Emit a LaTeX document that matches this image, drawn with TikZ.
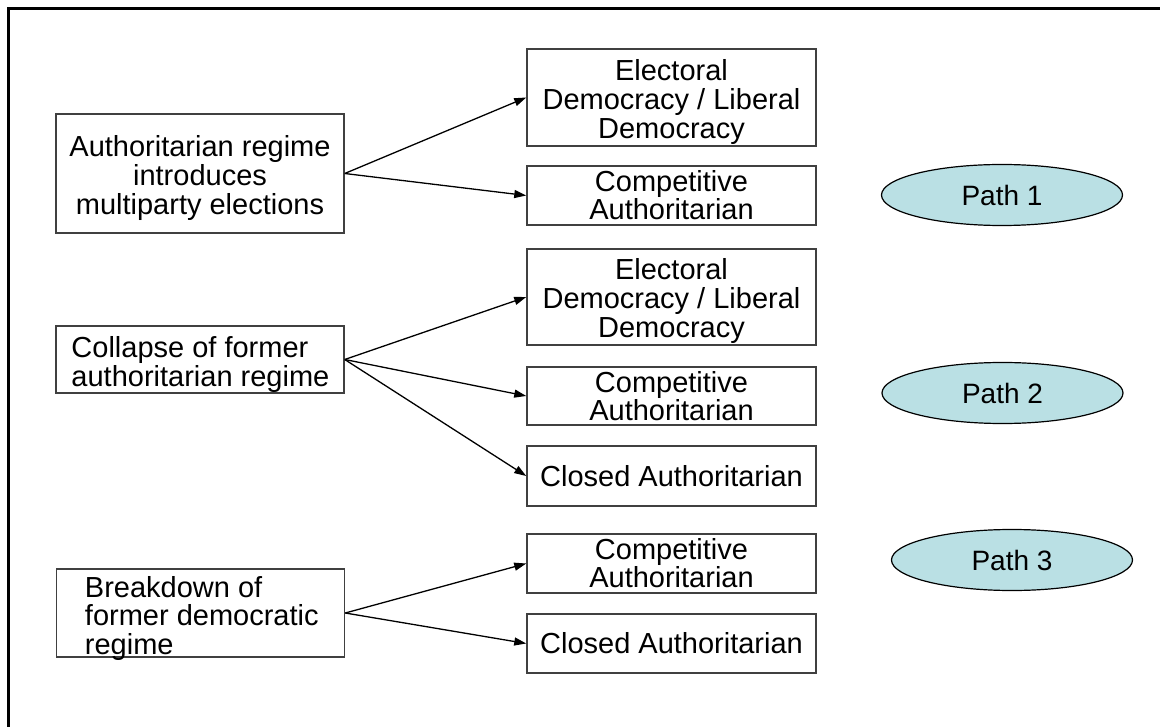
\documentclass[tikz,border=0pt]{standalone}
\usepackage{fontspec}
\setmainfont{Liberation Sans}
\usetikzlibrary{arrows.meta,shapes.geometric}
\definecolor{pathfill}{RGB}{186,224,228}
\begin{document}
\begin{tikzpicture}[x=1pt,y=-1pt,
  every node/.style={font=\fontsize{29}{29}\selectfont},
  box/.style={draw=black!75, line width=1.5pt, inner sep=0pt},
  leftbox/.style={box, minimum width=288, minimum height=#1},
  rightbox/.style={box, minimum width=289, minimum height=#1},
  midtext/.style={inner sep=0pt, align=center},
  lowtext/.style={midtext, yshift=-4.5pt},
  tighttext/.style={midtext, font=\fontsize{29}{27}\selectfont},
  lefttext/.style={inner sep=0pt, align=left, anchor=west, yshift=-5pt},
  pathtag/.style={ellipse, draw=black, line width=1.2pt, fill=pathfill,
    inner sep=0pt, minimum width=241, minimum height=61,
    font=\fontsize{28}{28}\selectfont},
  arr/.style={-{Triangle[length=12pt,width=8pt]}, line width=1.3pt, black}]
\useasboundingbox (0,0) rectangle (1160,727);
% outer frame (open at the right and bottom)
\draw[line width=3pt] (8,727) -- (8,9) -- (1160,9);

% starting situations
\node[leftbox=119] (a1) at (200,173.5) {};
\node[lowtext] (a1t) at (a1.center) {Authoritarian regime\\introduces\\multiparty elections};
\node[leftbox=67] (a2) at (200,359.5) {};
\node[lefttext] (a2t) at ([xshift=16pt]a2.west) {Collapse of former\\authoritarian regime};
\node[leftbox=88] (a3) at (200.5,613) {};
\node[lefttext] (a3t) at ([xshift=29pt,yshift=-0.5pt]a3.west) {Breakdown of\\former democratic\\regime};

% outcomes
\node[rightbox=97] (e1) at (671.5,97.5) {};
\node[lowtext] (e1t) at (e1.center) {Electoral\\Democracy / Liberal\\Democracy};
\node[rightbox=59] (c1) at (671.5,195.5) {};
\node[tighttext] (c1t) at (c1.center) {Competitive\\Authoritarian};
\node[rightbox=96] (e2) at (671.5,297) {};
\node[lowtext] (e2t) at (e2.center) {Electoral\\Democracy / Liberal\\Democracy};
\node[rightbox=58] (c2) at (671.5,396) {};
\node[tighttext] (c2t) at (c2.center) {Competitive\\Authoritarian};
\node[rightbox=60] (ca2) at (671.5,476) {};
\node[midtext] (ca2t) at (ca2.center) {Closed Authoritarian};
\node[rightbox=59] (c3) at (671.5,563.5) {};
\node[tighttext] (c3t) at (c3.center) {Competitive\\Authoritarian};
\node[rightbox=59] (ca3) at (671.5,643.5) {};
\node[midtext] (ca3t) at (ca3.center) {Closed Authoritarian};

% path tags
\node[pathtag] (p1) at (1002,195) {Path 1};
\node[pathtag] (p2) at (1002.5,393) {Path 2};
\node[pathtag] (p3) at (1012,560) {Path 3};

% transitions
\draw[arr] (a1.east) -- (e1.west);
\draw[arr] (a1.east) -- (c1.west);
\draw[arr] (a2.east) -- (e2.west);
\draw[arr] (a2.east) -- (c2.west);
\draw[arr] (a2.east) -- (ca2.west);
\draw[arr] (a3.east) -- (c3.west);
\draw[arr] (a3.east) -- (ca3.west);
\end{tikzpicture}
\end{document}
